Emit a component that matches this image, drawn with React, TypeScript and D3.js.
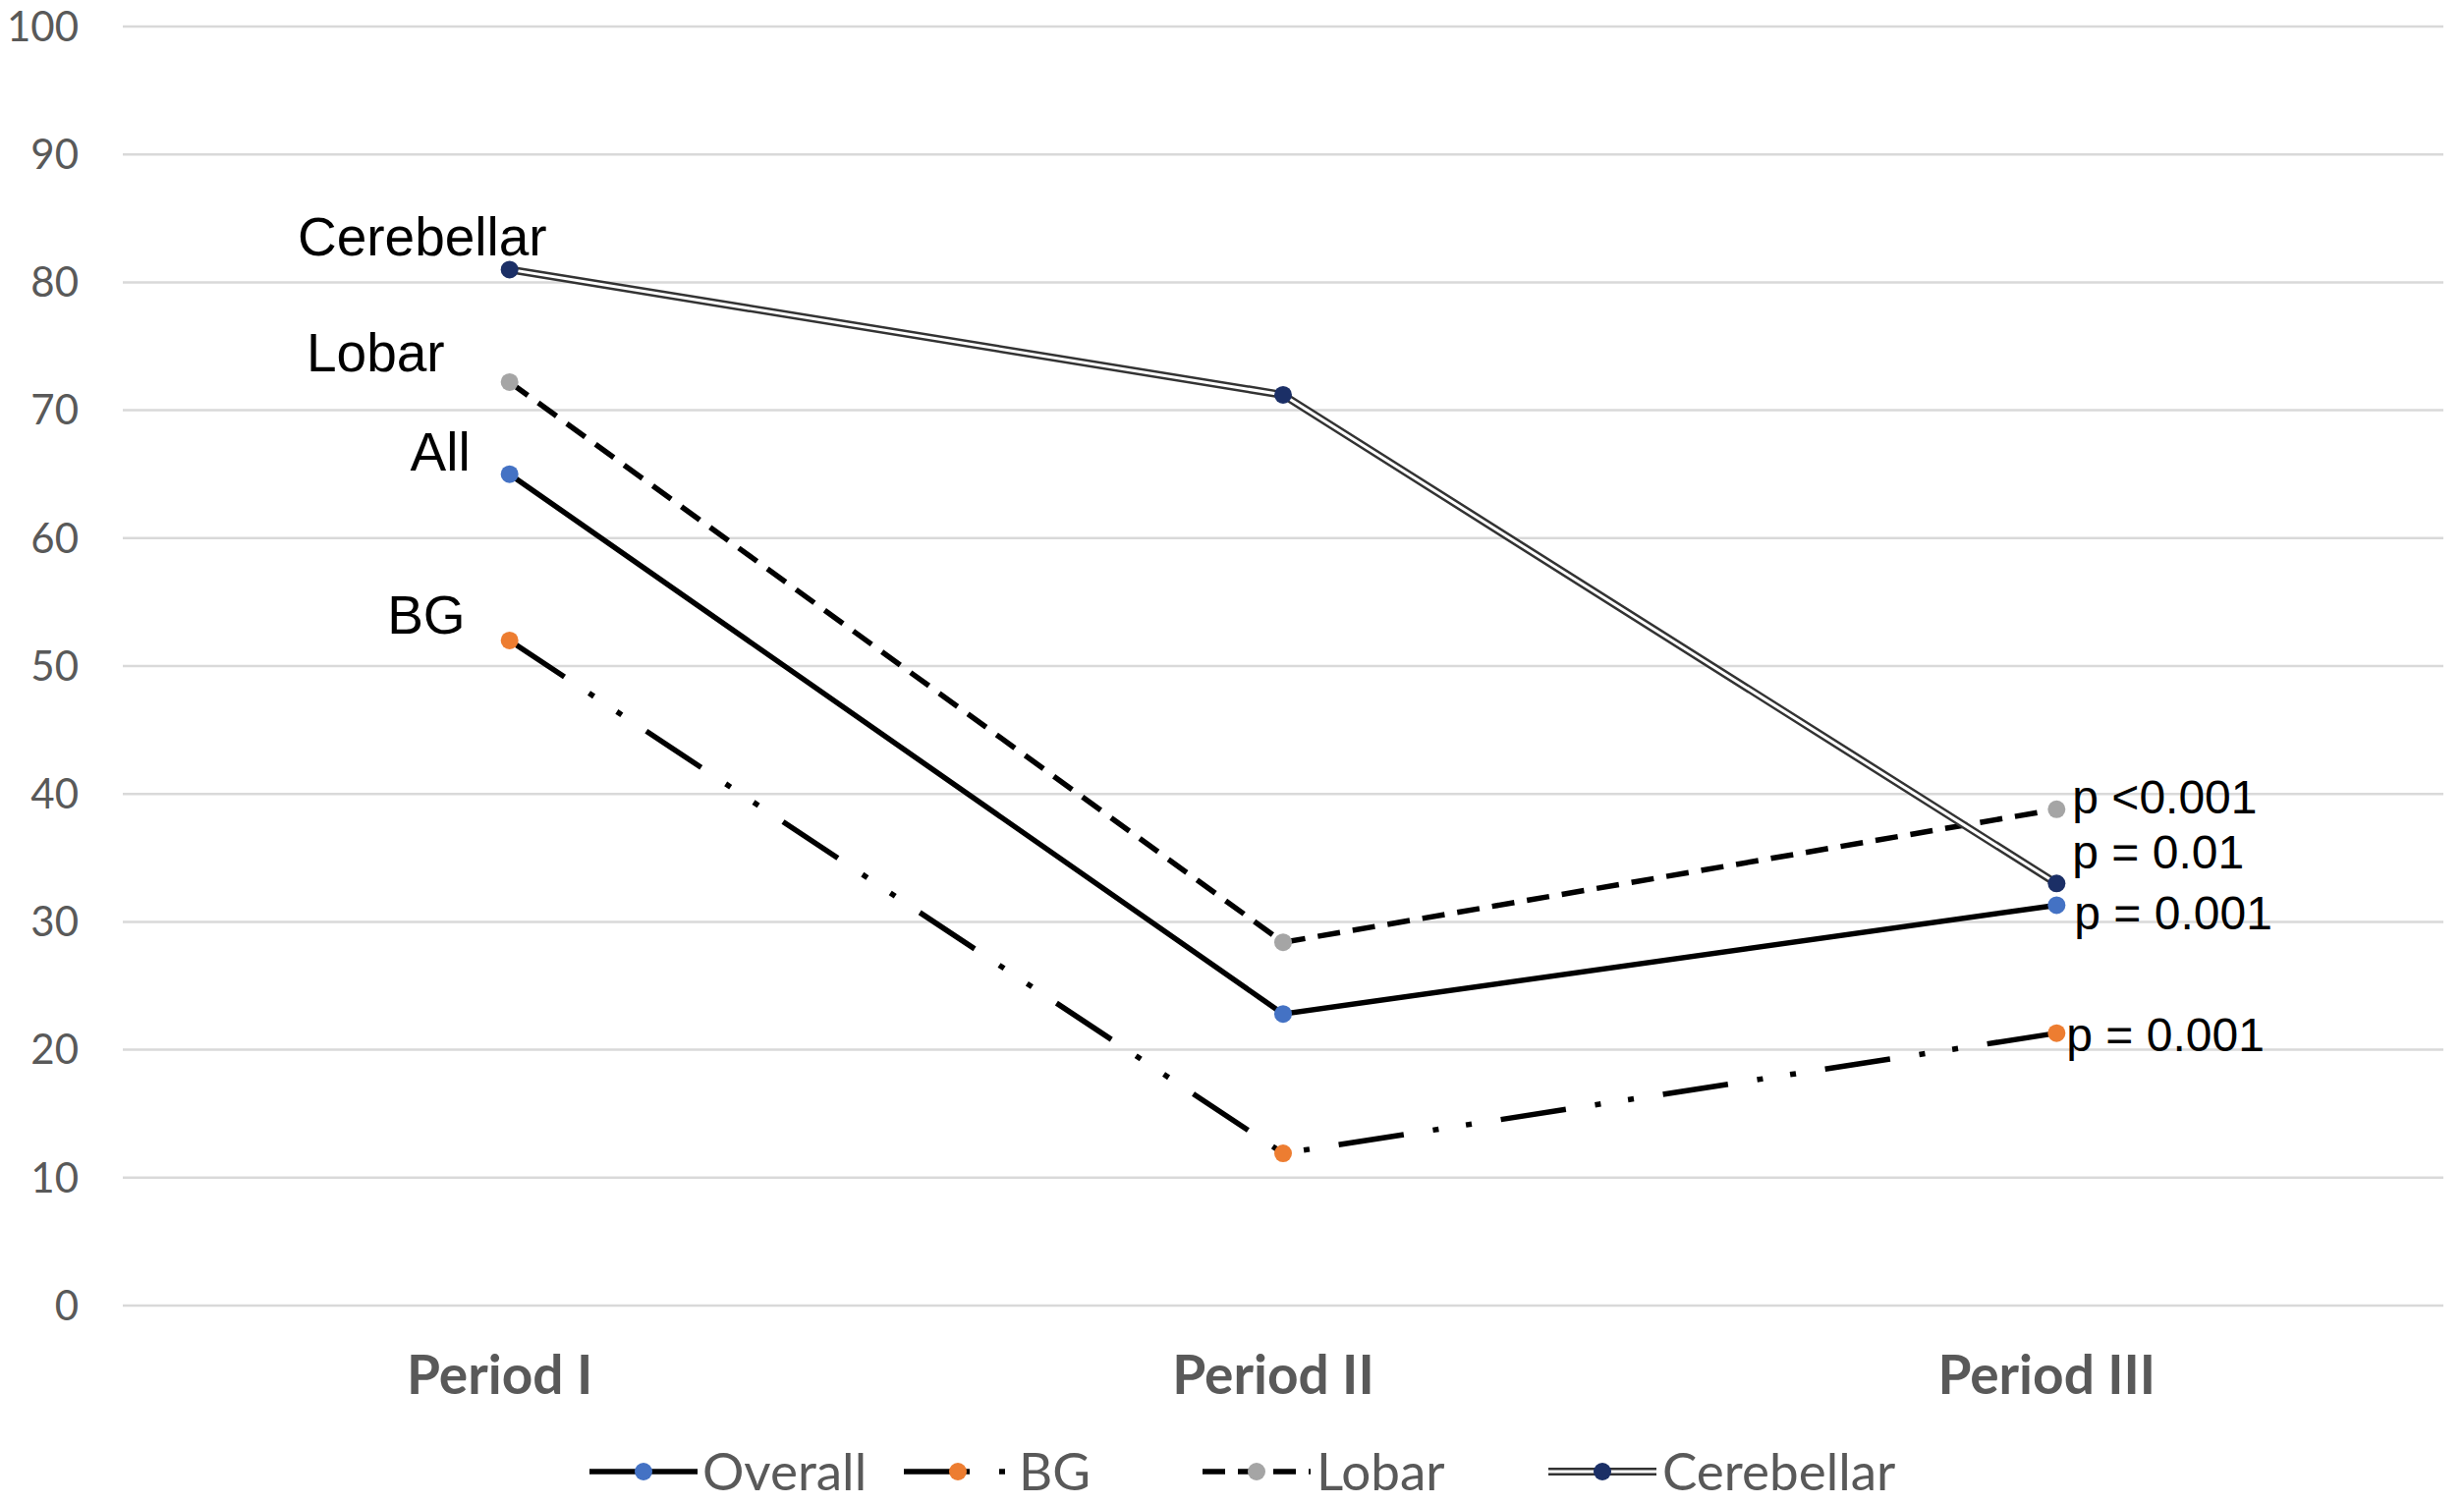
import React from 'react';
import * as d3 from 'd3';

const periods = ['Period I', 'Period II', 'Period III'];
const overall = [65.0, 22.8, 31.3];
const bg = [52.0, 11.9, 21.3];
const lobar = [72.2, 28.4, 38.8];
const cerebellar = [81.0, 71.2, 33.0];
const yTicks = [0, 10, 20, 30, 40, 50, 60, 70, 80, 90, 100];
const pValues = ['p = 0.001', 'p = 0.001', 'p <0.001', 'p = 0.01'];
const seriesLabels = ['All', 'BG', 'Lobar', 'Cerebellar'];
const legendNames = ['Overall', 'BG', 'Lobar', 'Cerebellar'];

const W = 2508;
const H = 1531;
const left = 125;
const right = 2487;

type Style = { color: string; dash: string | null; double: boolean };

const styles: Style[] = [
  { color: '#4472C4', dash: null, double: false },
  { color: '#ED7D31', dash: '67 30 6 28 6 30', double: false },
  { color: '#A5A5A5', dash: '23 13', double: false },
  { color: '#1B2F66', dash: null, double: true },
];

const allSeries = [overall, bg, lobar, cerebellar];

// label offsets relative to the Period I point / Period III point
const labelPos = [
  { dx: -40, dy: -4 },
  { dx: -45, dy: -7 },
  { dx: -66, dy: -11 },
  { dx: 38, dy: -14 },
];
const pPos = [
  { dx: 18, dy: 8 },
  { dx: 10, dy: 2 },
  { dx: 16, dy: -13 },
  { dx: 16, dy: -32 },
];
const legendX = [600, 920, 1224, 1576];
const legendTextX = [715, 1037, 1340, 1692];

const App: React.FC = () => {
  const x = d3.scaleBand<string>().domain(periods).range([left, right]);
  const cx = (p: string) => (x(p) ?? 0) + x.bandwidth() / 2;
  const y = d3.scaleLinear().domain([0, 100]).range([1329, 27]);

  const line = d3.line<number>()
    .x((_, i) => cx(periods[i]))
    .y(d => y(d));

  const lastP = periods[periods.length - 1];

  const drawPath = (s: Style, d: string, key: string) => {
    if (s.double) {
      return (
        <g key={key}>
          <path d={d} fill="none" stroke="#333333" strokeWidth={8} />
          <path d={d} fill="none" stroke="#ffffff" strokeWidth={3} />
        </g>
      );
    }
    return (
      <path key={key} d={d} fill="none" stroke="#000" strokeWidth={5.5}
        strokeDasharray={s.dash ?? undefined} />
    );
  };

  return (
    <svg width={W} height={H} style={{ position: 'absolute', left: 0, top: 0, background: '#fff' }}>
      {/* grid */}
      {yTicks.map(t => (
        <g key={t}>
          <line x1={left} x2={right} y1={y(t)} y2={y(t)} stroke="#d9d9d9" strokeWidth={2.5} />
          <text x={80} y={y(t)} dy="0.35em" textAnchor="end" fontFamily="Lato, 'Open Sans', sans-serif"
            fontSize={42} fill="#595959">{t}</text>
        </g>
      ))}

      {/* x labels */}
      {periods.map(p => (
        <text key={p} x={cx(p) - 10} y={1419} textAnchor="middle" fontFamily="Lato, 'Open Sans', sans-serif"
          fontWeight="bold" fontSize={55} fill="#595959">{p}</text>
      ))}

      {/* series */}
      {allSeries.map((vals, si) => drawPath(styles[si], line(vals) ?? '', 's' + si))}
      {allSeries.map((vals, si) => (
        <g key={'m' + si}>
          {vals.map((v, i) => (
            <circle key={i} cx={cx(periods[i])} cy={y(v)} r={9} fill={styles[si].color} />
          ))}
        </g>
      ))}

      {/* series labels at Period I */}
      {allSeries.map((vals, si) => (
        <text key={'l' + si} x={cx(periods[0]) + labelPos[si].dx} y={y(vals[0]) + labelPos[si].dy}
          textAnchor="end" fontFamily="'Liberation Sans', Arial, sans-serif" fontSize={55} fill="#000">
          {seriesLabels[si]}
        </text>
      ))}

      {/* p-values at Period III */}
      {allSeries.map((vals, si) => (
        <text key={'p' + si} x={cx(lastP) + pPos[si].dx} y={y(vals[2]) + pPos[si].dy} dy="0.35em"
          fontFamily="'Liberation Sans', Arial, sans-serif" fontSize={48} fill="#000">
          {pValues[si]}
        </text>
      ))}

      {/* legend */}
      {legendNames.map((n, i) => {
        const x0 = legendX[i];
        const x1 = x0 + 110;
        const ly = 1498;
        const d = `M${x0},${ly}L${x1},${ly}`;
        return (
          <g key={'lg' + i}>
            {drawPath(styles[i], d, 'lp' + i)}
            <circle cx={(x0 + x1) / 2} cy={ly} r={9} fill={styles[i].color} />
            <text x={legendTextX[i]} y={ly} dy="0.35em" fontFamily="Lato, 'Open Sans', sans-serif"
              fontSize={53} fill="#595959">{n}</text>
          </g>
        );
      })}
    </svg>
  );
};

export default App;
